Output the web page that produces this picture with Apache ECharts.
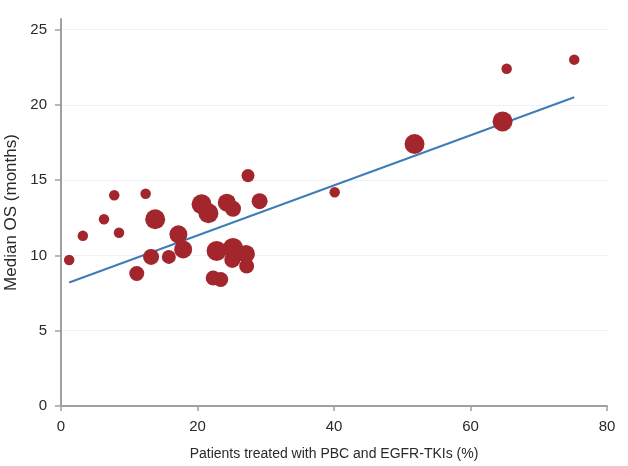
<!DOCTYPE html>
<html>
<head>
<meta charset="utf-8">
<script src="https://cdn.jsdelivr.net/npm/echarts@6/dist/echarts.min.js"></script>
<style>
html,body{margin:0;padding:0;background:#fff;}
#chart{width:628px;height:466px;}
</style>
</head>
<body>
<div id="chart"></div>
<script>
// Patients treated with PBC and EGFR-TKIs (%)
const pctTreated = [1.2, 3.2, 6.3, 7.8, 8.5, 12.4, 11.1, 13.2, 13.8, 15.8,
                    17.2, 17.9, 20.6, 21.6, 24.3, 25.2, 27.4, 29.1, 22.8, 25.2,
                    25.1, 27.1, 27.2, 22.3, 23.4, 40.1, 51.8, 64.7, 65.3, 75.2];
// Median OS (months)
const medianOS = [9.7, 11.3, 12.4, 14.0, 11.5, 14.1, 8.8, 9.9, 12.4, 9.9,
                  11.4, 10.4, 13.4, 12.8, 13.5, 13.1, 15.3, 13.6, 10.3, 10.5,
                  9.7, 10.1, 9.3, 8.5, 8.4, 14.2, 17.4, 18.9, 22.4, 23.0];
// relative study weight (bubble area)
const studyWeight = [110, 110, 110, 110, 110, 110, 225, 256, 400, 196,
                     324, 324, 400, 400, 324, 256, 170, 256, 400, 400,
                     256, 324, 225, 225, 225, 110, 400, 400, 110, 110];
// regression line end points
const fitX = [1.2, 75.2];
const fitY = [8.2, 20.5];
// tick labels
const xTicks = [0, 20, 40, 60, 80];
const yTicks = [0, 5, 10, 15, 20, 25];

const points = pctTreated.map((x, i) => [x, medianOS[i], studyWeight[i]]);
const fitLine = fitX.map((x, i) => [x, fitY[i]]);

const font = "'Liberation Sans', Arial, sans-serif";
const axisGray = '#a0a0a0';
const textCol = '#2a2a2a';

const chart = echarts.init(document.getElementById('chart'), null, {renderer: 'canvas'});
chart.setOption({
  animation: false,
  backgroundColor: '#ffffff',
  grid: {left: 61, right: 21, top: 19, bottom: 60, containLabel: false, outerBoundsMode: 'none'},
  xAxis: {
    type: 'value',
    min: 0, max: 80, interval: 20,
    name: 'Patients treated with PBC and EGFR-TKIs (%)',
    nameLocation: 'middle',
    nameGap: 41,
    nameTextStyle: {fontFamily: font, fontSize: 14, color: textCol},
    axisLine: {show: true, lineStyle: {color: axisGray, width: 2}},
    axisTick: {show: true, length: 5, lineStyle: {color: axisGray, width: 1.5}, customValues: xTicks},
    axisLabel: {fontFamily: font, fontSize: 15, color: textCol, margin: 13, customValues: xTicks},
    splitLine: {show: false}
  },
  yAxis: {
    type: 'value',
    min: 0, max: 25.7,
    name: 'Median OS (months)',
    nameLocation: 'middle',
    nameGap: 40,
    nameRotate: 90,
    nameTextStyle: {fontFamily: font, fontSize: 17, color: textCol},
    axisLine: {show: true, lineStyle: {color: axisGray, width: 2}},
    axisTick: {show: true, length: 6, lineStyle: {color: axisGray, width: 1.5}, customValues: yTicks},
    axisLabel: {fontFamily: font, fontSize: 15, color: textCol, margin: 14, customValues: yTicks},
    splitLine: {show: true, lineStyle: {color: '#eef2f6', width: 1}}
  },
  series: [
    {
      type: 'line',
      data: fitLine,
      showSymbol: false,
      symbol: 'none',
      lineStyle: {color: '#3f7db7', width: 2},
      z: 2,
      silent: true
    },
    {
      type: 'scatter',
      data: points,
      symbol: 'circle',
      symbolSize: d => Math.sqrt(d[2]),
      itemStyle: {color: '#a3262d', opacity: 1},
      z: 3
    }
  ]
});
</script>
</body>
</html>
